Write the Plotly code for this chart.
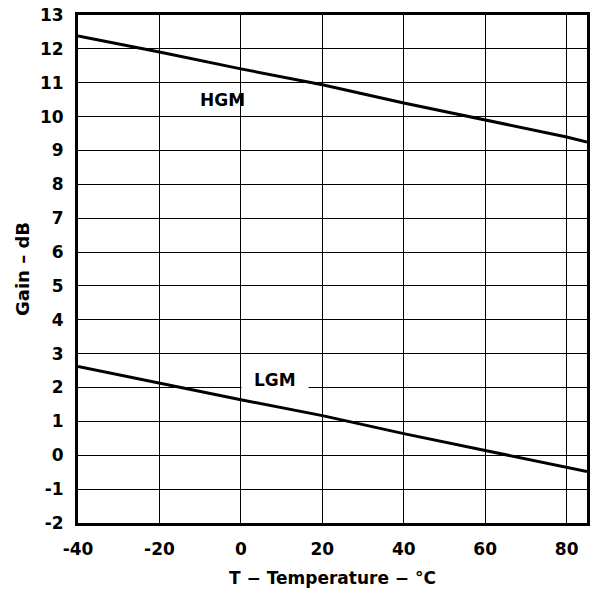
import plotly.graph_objects as go

temps = [-40, -20, 0, 20, 40, 60, 80, 85]
hgm_gain = [12.38, 11.91, 11.41, 10.94, 10.40, 9.90, 9.40, 9.25]
lgm_gain = [2.62, 2.12, 1.64, 1.17, 0.64, 0.14, -0.36, -0.48]

x_ticks = [-40, -20, 0, 20, 40, 60, 80]
y_ticks = list(range(-2, 14))

font_family = "DejaVu Sans, Liberation Sans, Arial, sans-serif"

fig = go.Figure()
fig.add_trace(go.Scatter(x=temps, y=hgm_gain, mode="lines",
                         line=dict(color="black", width=3), showlegend=False))
fig.add_trace(go.Scatter(x=temps, y=lgm_gain, mode="lines",
                         line=dict(color="black", width=3), showlegend=False))

fig.add_annotation(x=-4.6, y=10.5, text="<b>HGM</b>", showarrow=False,
                   font=dict(size=17, color="black", family=font_family))
fig.add_annotation(x=8.5, y=2.23, text="<b> LGM </b>", showarrow=False,
                   bgcolor="white", borderpad=6,
                   font=dict(size=17, color="black", family=font_family))

fig.update_layout(
    width=592, height=593,
    margin=dict(l=78, r=5, t=15, b=70),
    paper_bgcolor="white", plot_bgcolor="white",
    font=dict(family=font_family, color="black", size=17),
    xaxis=dict(
        range=[-40, 85], tickvals=x_ticks,
        ticktext=[str(v) for v in x_ticks],
        showgrid=True, gridcolor="black", gridwidth=1,
        showline=True, linecolor="black", linewidth=3, mirror=True,
        zeroline=False, ticks="", ticklabelstandoff=9, automargin=False,
        tickfont=dict(size=17, family=font_family, weight="bold"),
        title=dict(text="<b>T − Temperature − °C</b>", standoff=14,
                   font=dict(size=17, family=font_family)),
    ),
    yaxis=dict(
        range=[-2, 13], tickvals=y_ticks,
        ticktext=[str(v) for v in y_ticks],
        showgrid=True, gridcolor="black", gridwidth=1,
        showline=True, linecolor="black", linewidth=3, mirror=True,
        zeroline=False, ticks="", ticklabelstandoff=8, automargin=False,
        tickfont=dict(size=17, family=font_family, weight="bold"),
        title=dict(text="<b>Gain – dB</b>", standoff=6,
                   font=dict(size=18, family=font_family)),
    ),
)

fig.write_html(
    "out.html",
    config={"displayModeBar": False},
    post_script="document.body.style.margin='0';document.body.style.overflow='hidden';",
)
